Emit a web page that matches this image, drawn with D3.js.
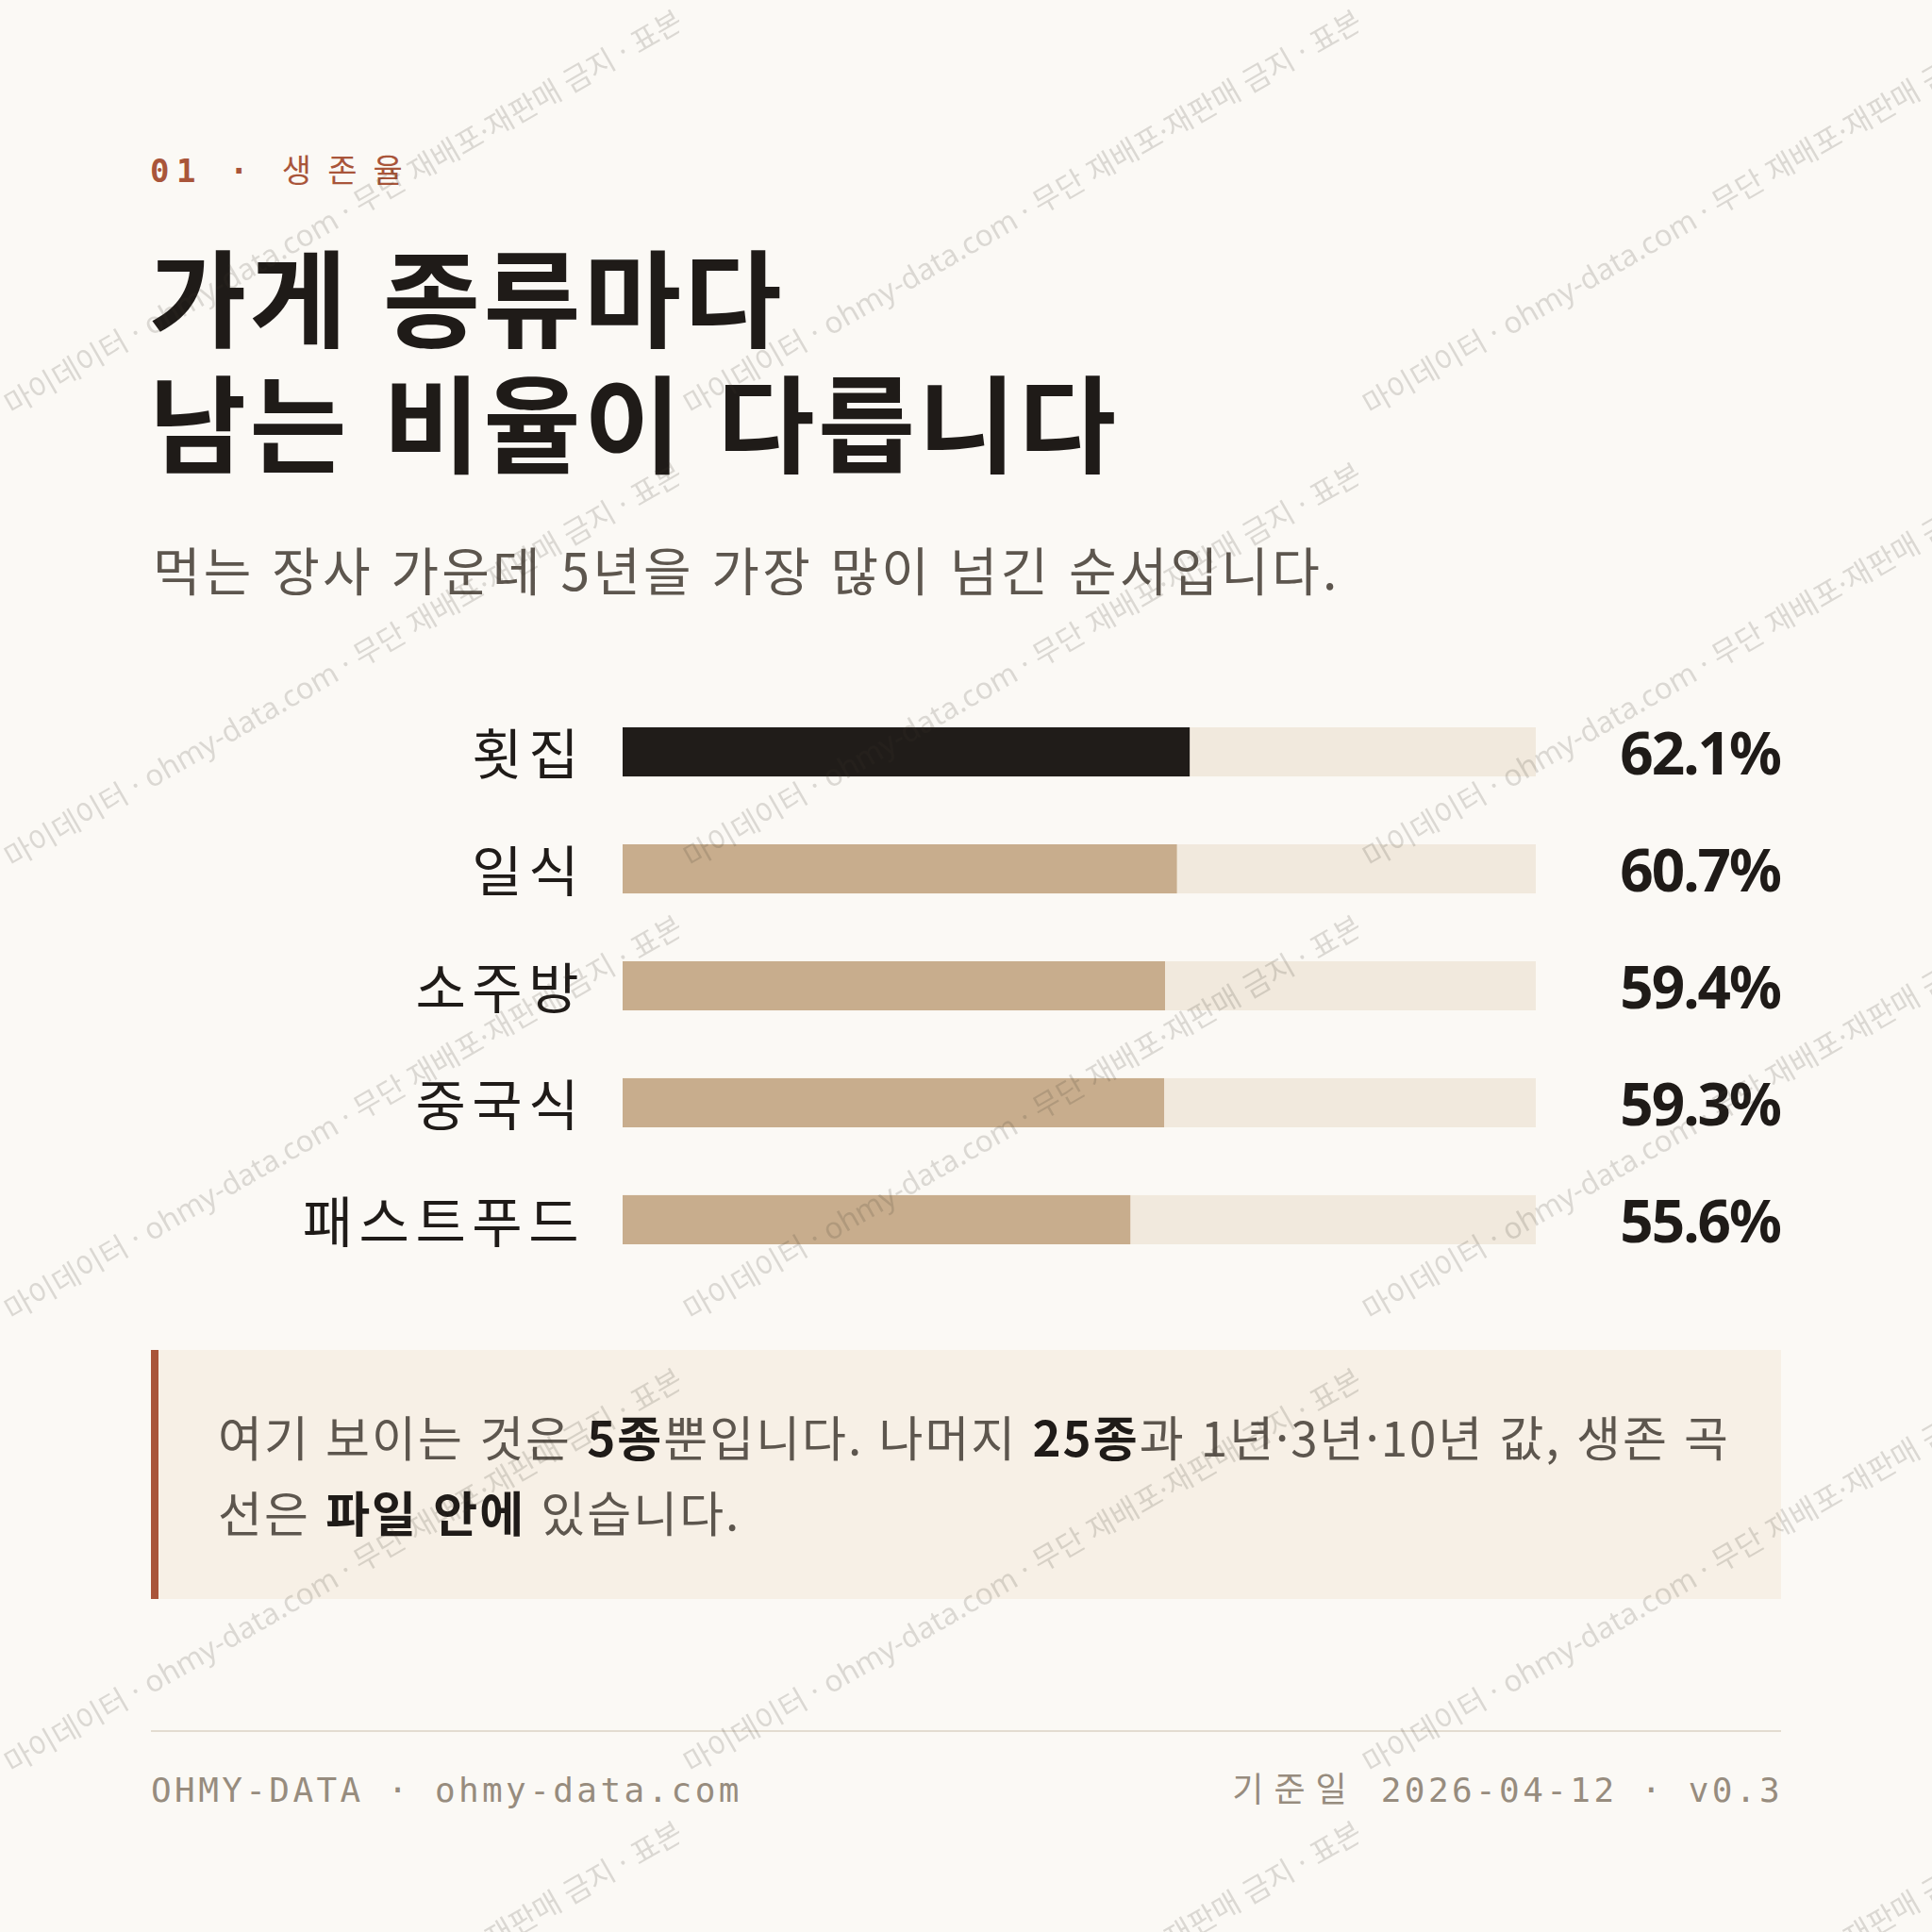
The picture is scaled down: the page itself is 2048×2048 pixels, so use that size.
<!DOCTYPE html>
<html lang="ko">
<head>
<meta charset="utf-8">
<script src="https://cdn.jsdelivr.net/npm/d3@7"></script>
<style>
  html, body { margin: 0; padding: 0; background: #fbf9f5; }
  svg { display: block; }
</style>
</head>
<body>
<div id="chart"></div>
<script>
// ---- data ----
const categories = ["횟집", "일식", "소주방", "중국식", "패스트푸드"];
const values = [62.1, 60.7, 59.4, 59.3, 55.6];
const highlighted = ["횟집"];
const eyebrowNum = "01 · ";
const eyebrowText = "생존율";
const titleLines = ["가게 종류마다", "남는 비율이 다릅니다"];
const subtitle = "먹는 장사 가운데 5년을 가장 많이 넘긴 순서입니다.";
const noteLines = [
  [["여기 보이는 것은 ", false], ["5종", true], ["뿐입니다. 나머지 ", false], ["25종", true], ["과 1년·3년·10년 값, 생존 곡", false]],
  [["선은 ", false], ["파일 안에", true], [" 있습니다.", false]]
];
const footerLeft = "OHMY-DATA · ohmy-data.com";
const footerRightKr = "기준일";
const footerRight = " 2026-04-12 · v0.3";
const watermarkText = "마이데이터 · ohmy-data.com · 무단 재배포·재판매 금지 · 표본";

// ---- setup ----
const W = 2048, H = 2048;
const KR = "'Noto Sans CJK KR', 'Noto Sans', sans-serif";
const MONO = "'DejaVu Sans Mono', 'Noto Sans CJK KR', monospace";
const C = {
  bg: "#fbf9f5", ink: "#1f1b18", sub: "#5d564e", accent: "#a9553a",
  track: "#f1e9dd", fill: "#c8ad8d", dark: "#201c19",
  noteBg: "#f7f0e6", rule: "#e3dcd1", foot: "#978c7e"
};

const svg = d3.select("#chart").append("svg")
  .attr("width", W).attr("height", H).attr("viewBox", `0 0 ${W} ${H}`);

svg.append("rect").attr("width", W).attr("height", H).attr("fill", C.bg);

// eyebrow
const eb = svg.append("text").attr("x", 159).attr("y", 193)
  .attr("font-family", MONO).attr("font-size", 34)
  .attr("fill", C.accent);
eb.append("tspan").attr("font-weight", 700).attr("letter-spacing", 7.5).text(eyebrowNum);
eb.append("tspan").attr("font-weight", 400).attr("font-family", KR)
  .attr("letter-spacing", 17).text(eyebrowText);

// title
svg.append("g").selectAll("text").data(titleLines).join("text")
  .attr("x", 158).attr("y", (d, i) => 360 + i * 133)
  .attr("font-family", KR).attr("font-weight", 700).attr("font-size", 112)
  .attr("letter-spacing", 3.5).attr("fill", C.ink)
  .text(d => d);

// subtitle
svg.append("text").attr("x", 162).attr("y", 626)
  .attr("font-family", KR).attr("font-weight", 400).attr("font-size", 55)
  .attr("letter-spacing", 3.2)
  .attr("fill", C.sub).text(subtitle);

// ---- bars ----
const x = d3.scaleLinear().domain([0, 100]).range([660, 1628]);
const y = d3.scaleBand().domain(categories).range([771, 1319]).paddingInner(0.58).paddingOuter(0);
const fmt = d3.format(".1f");
const rows = categories.map((c, i) => ({ c, v: values[i] }));

const g = svg.append("g");
g.selectAll("rect.track").data(rows).join("rect").attr("class", "track")
  .attr("x", x(0)).attr("y", d => y(d.c))
  .attr("width", x(100) - x(0)).attr("height", y.bandwidth())
  .attr("fill", C.track);
g.selectAll("rect.val").data(rows).join("rect").attr("class", "val")
  .attr("x", x(0)).attr("y", d => y(d.c))
  .attr("width", d => x(d.v) - x(0)).attr("height", y.bandwidth())
  .attr("fill", d => highlighted.includes(d.c) ? C.dark : C.fill);
g.selectAll("text.lab").data(rows).join("text").attr("class", "lab")
  .attr("x", x(0) - 40).attr("y", d => y(d.c) + y.bandwidth() / 2 + 24)
  .attr("text-anchor", "end")
  .attr("font-family", KR).attr("font-size", 58).attr("font-weight", 400)
  .attr("letter-spacing", 6.5)
  .attr("fill", C.ink).text(d => d.c);
g.selectAll("text.num").data(rows).join("text").attr("class", "num")
  .attr("x", 1887).attr("y", d => y(d.c) + y.bandwidth() / 2 + 24)
  .attr("text-anchor", "end")
  .attr("font-family", "'Noto Sans', 'Open Sans', sans-serif").attr("font-size", 62)
  .attr("font-weight", 700).attr("letter-spacing", -2)
  .attr("fill", C.ink).text(d => fmt(d.v) + "%");

// ---- note box ----
svg.append("rect").attr("x", 160).attr("y", 1431).attr("width", 1728).attr("height", 264)
  .attr("fill", C.noteBg);
svg.append("rect").attr("x", 160).attr("y", 1431).attr("width", 8).attr("height", 264)
  .attr("fill", C.accent);
const note = svg.append("g");
noteLines.forEach((parts, i) => {
  const t = note.append("text").attr("x", 231).attr("y", 1544 + i * 80)
    .attr("font-family", KR).attr("font-size", 51).attr("letter-spacing", 2);
  parts.forEach(([s, b]) => {
    t.append("tspan").attr("font-weight", b ? 700 : 400)
      .attr("fill", b ? C.ink : C.sub).text(s);
  });
});

// ---- footer ----
svg.append("line").attr("x1", 160).attr("x2", 1888).attr("y1", 1835).attr("y2", 1835)
  .attr("stroke", C.rule).attr("stroke-width", 2);
svg.append("text").attr("x", 160).attr("y", 1910)
  .attr("font-family", MONO).attr("font-size", 36).attr("letter-spacing", 3.4)
  .attr("fill", C.foot).text(footerLeft);
const fr = svg.append("text").attr("x", 1890).attr("y", 1910).attr("text-anchor", "end")
  .attr("font-family", MONO).attr("font-size", 36)
  .attr("fill", C.foot);
fr.append("tspan").attr("font-family", KR).attr("letter-spacing", 11).text(footerRightKr);
fr.append("tspan").attr("letter-spacing", 3.4).text(footerRight);

// ---- watermark overlay ----
const defs = svg.append("defs");
const pat = defs.append("pattern").attr("id", "wm").attr("patternUnits", "userSpaceOnUse")
  .attr("width", 720).attr("height", 480);
pat.append("text").attr("x", 13).attr("y", 441).attr("text-anchor", "start")
  .attr("transform", "rotate(-30 13 441)")
  .attr("font-family", "'Noto Sans', 'Noto Sans CJK KR', sans-serif").attr("font-size", 31.5)
  .attr("fill", "#3c3228").attr("fill-opacity", 0.17)
  .text(watermarkText);
svg.append("rect").attr("width", W).attr("height", H).attr("fill", "url(#wm)")
  .attr("pointer-events", "none");
</script>
</body>
</html>
